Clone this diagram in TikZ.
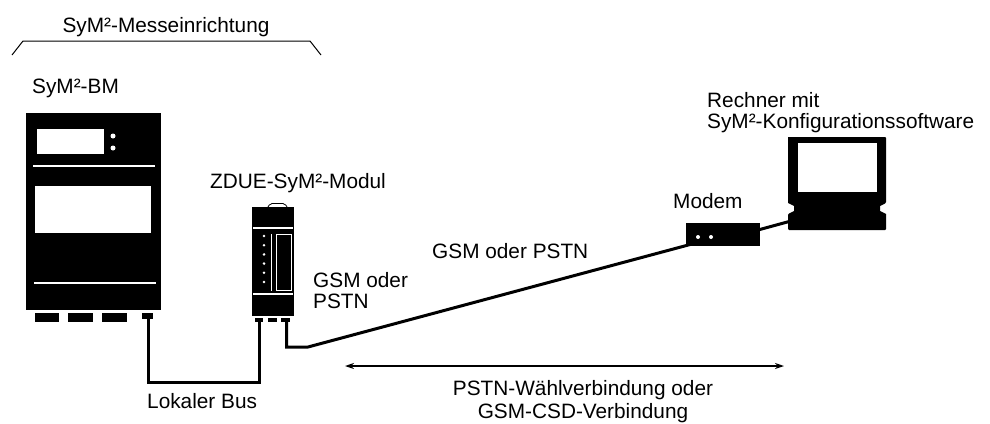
\documentclass[tikz,border=0pt]{standalone}
\usepackage{fontspec}
\setmainfont{Liberation Sans}
\usetikzlibrary{arrows.meta}
\begin{document}
\begin{tikzpicture}[x=1pt,y=-1pt,
  lbl/.style={anchor=base west,inner sep=0pt,font=\fontsize{20.8}{24}\selectfont},
  lblc/.style={anchor=base,inner sep=0pt,font=\fontsize{20.8}{24}\selectfont},
  device/.style={fill=black,draw=none,inner sep=0pt,outer sep=0pt},
  groove/.style={draw=white,line width=1.5pt},
  cable/.style={line width=3pt,line join=miter},
  span/.style={line width=1.4pt,{Stealth[length=9pt,width=6pt]}-{Stealth[length=9pt,width=6pt]}},
]
\useasboundingbox (0,0) rectangle (990,423);

% bracket over the metering unit
\draw[line width=1pt] (12,55) -- (23,41) -- (310,41) -- (321,55);
\node[lblc] (unit) at (166,32) {SyM²-Messeinrichtung};

% ---------- SyM²-BM ----------
\node[lbl] (bmlabel) at (32,93) {SyM²-BM};
\node[device,minimum width=135pt,minimum height=197pt] (bm) at (93.5,211.5) {};
\fill[white] (37,129) rectangle (104,154);
\fill[white] (113,136) circle (2.5pt) (113,148) circle (2.5pt);
\draw[groove] (33,166) -- (155,166);
\fill[white] (35,186) rectangle (151,233);
\draw[groove] (34,283) -- (156,283);
\fill (35,313) rectangle (59,322);
\fill (68,313) rectangle (93,322);
\fill (102,313) rectangle (127,322);
\fill (142,313) rectangle (153,319);
\coordinate (bmport) at (148,319);

% ---------- ZDUE-SyM²-Modul ----------
\node[lbl] (zlabel) at (210,188) {ZDUE-SyM²-Modul};
\draw[line width=0.8pt,rounded corners=2pt] (268,207) -- (270,203.5) -- (285,203.5) -- (287,207);
\node[device,minimum width=42pt,minimum height=109pt] (zdue) at (273,261.5) {};
\draw[groove] (253,228) -- (293,228);
\draw[groove] (253,294) -- (293,294);
\foreach \k in {0,...,5}
  \fill[white] (264,236+9.2*\k) circle (1.4pt);
\draw[white,line width=1pt] (271,234) -- (271,291);
\draw[white,line width=1pt] (276,234) rectangle (291,290);
\fill (255,318) rectangle (263,322);
\fill (268,318) rectangle (277,322);
\fill (281,318) rectangle (290,322);
\coordinate (zport1) at (259,322);
\coordinate (zport3) at (286.5,322);

\node[lbl] (gsm1) at (313,287) {GSM oder};
\node[lbl] (gsm2) at (313,308) {PSTN};

% ---------- modem and computer ----------
\node[lbl] (mlabel) at (673,208) {Modem};
\node[lbl] (clabel1) at (707,107) {Rechner mit};
\node[lbl] (clabel2) at (707,128) {SyM²-Konfigurationssoftware};

\coordinate (bend) at (308,347);
\coordinate (modemin) at (692,244);
\coordinate (modemout) at (758,230);
\coordinate (pcin) at (791,221);

% cables (drawn before the devices they plug into)
\draw[cable] (bmport) -- ++(0,63) -| (zport1);
\draw[cable] (zport3) |- (bend) -- (modemin);
\draw[cable] (modemout) -- (pcin);

\node[device,minimum width=74pt,minimum height=23pt] (modem) at (723,234.5) {};
\fill[white] (698,237) circle (2pt) (711,237) circle (2pt);

\fill[rounded corners=1pt] (788,137) -- (886,137) -- (886,203)
  [sharp corners] -- (880,206) -- (880,211) -- (886,214)
  [rounded corners=1pt] -- (886,230) -- (788,230) -- (788,214)
  [sharp corners] -- (794,211) -- (794,206) -- (788,203) -- cycle;
\coordinate (pc) at (837,183);
\fill[white] (798,143) rectangle (877,192);

% ---------- link span ----------
\coordinate (spanL) at (345,366);
\coordinate (spanR) at (784,366);
\draw[span] (spanL) -- (spanR);

\node[lbl] (top) at (432,258) {GSM oder PSTN};
\node[lblc] (span1) at (583,395) {PSTN-Wählverbindung oder};
\node[lblc] (span2) at (583,418) {GSM-CSD-Verbindung};
\node[lbl] (bus) at (147,408) {Lokaler Bus};
\end{tikzpicture}
\end{document}
